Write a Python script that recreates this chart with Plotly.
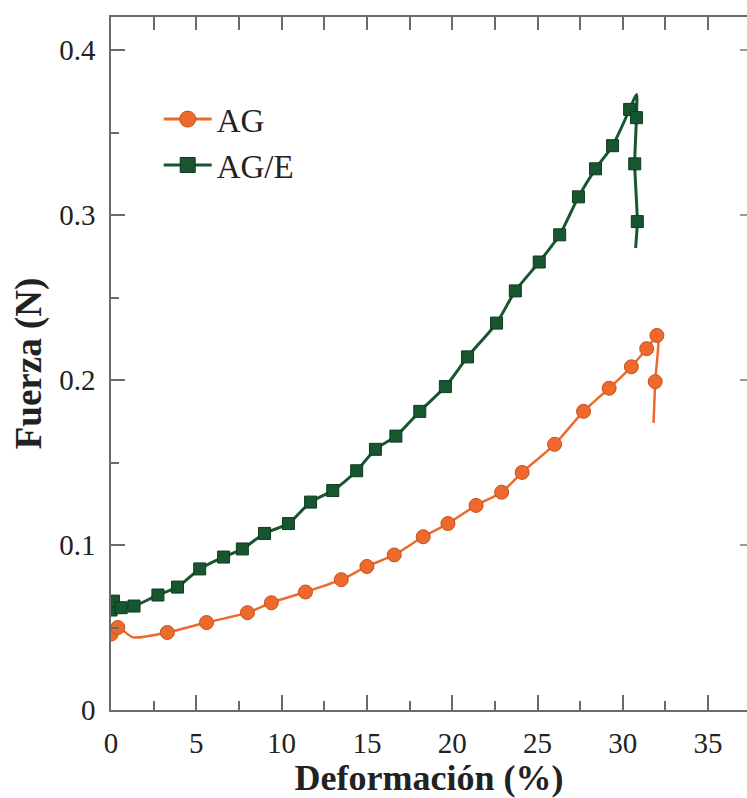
import plotly.graph_objects as go

# ---- data ----
ag_mx = [0.0, 0.4, 3.3, 5.6, 8.0, 9.4, 11.4, 13.5, 15.0, 16.6, 18.3, 19.75, 21.4, 22.9,
         24.1, 26.0, 27.7, 29.2, 30.5, 31.4, 32.0, 31.9]
ag_my = [0.046, 0.050, 0.047, 0.053, 0.059, 0.065, 0.0715, 0.079, 0.087, 0.094, 0.105, 0.113,
         0.124, 0.132, 0.144, 0.161, 0.181, 0.195, 0.208, 0.219, 0.227, 0.199]
ag_lx = [0.0, 0.4, 1.3, 3.3, 5.6, 8.0, 9.4, 11.4, 13.5, 15.0, 16.6, 18.3, 19.75, 21.4, 22.9,
         24.1, 26.0, 27.7, 29.2, 30.5, 31.4, 32.05, 31.9, 31.8]
ag_ly = [0.046, 0.050, 0.044, 0.047, 0.053, 0.059, 0.065, 0.0715, 0.079, 0.087, 0.094, 0.105,
         0.113, 0.124, 0.132, 0.144, 0.161, 0.181, 0.195, 0.208, 0.219, 0.227, 0.199, 0.174]

age_mx = [0.0, 0.15, 0.6, 1.35, 2.75, 3.9, 5.2, 6.6, 7.7, 9.0, 10.4, 11.7, 13.0, 14.4, 15.5,
          16.7, 18.1, 19.6, 20.9, 22.6, 23.7, 25.1, 26.3, 27.4, 28.4, 29.4, 30.4, 30.8,
          30.7, 30.85]
age_my = [0.0606, 0.066, 0.062, 0.063, 0.0697, 0.0745, 0.0855, 0.0927, 0.0976, 0.107, 0.113,
          0.126, 0.133, 0.145, 0.158, 0.166, 0.181, 0.196, 0.214, 0.2345, 0.254, 0.2715,
          0.288, 0.311, 0.328, 0.342, 0.364, 0.359, 0.331, 0.296]
age_lx = [0.0, 0.15, 0.6, 1.35, 2.75, 3.9, 5.2, 6.6, 7.7, 9.0, 10.4, 11.7, 13.0, 14.4, 15.5,
          16.7, 18.1, 19.6, 20.9, 22.6, 23.7, 25.1, 26.3, 27.4, 28.4, 29.4, 30.4, 30.8,
          30.8, 30.7, 30.85, 30.75]
age_ly = [0.0606, 0.066, 0.062, 0.063, 0.0697, 0.0745, 0.0855, 0.0927, 0.0976, 0.107, 0.113,
          0.126, 0.133, 0.145, 0.158, 0.166, 0.181, 0.196, 0.214, 0.2345, 0.254, 0.2715,
          0.288, 0.311, 0.328, 0.342, 0.364, 0.373, 0.359, 0.331, 0.296, 0.280]

x_ticks = [0, 5, 10, 15, 20, 25, 30, 35]
y_ticks = [0, 0.1, 0.2, 0.3, 0.4]
y_tick_text = ["0", "0.1", "0.2", "0.3", "0.4"]

orange = "#EE6A2C"
orange_edge = "#C4501E"
green = "#17562F"
green_edge = "#0E3B1F"
axis_col = "#6a6a6a"
FONT = "Liberation Serif"

fig = go.Figure()
# lines
fig.add_trace(go.Scatter(x=ag_lx, y=ag_ly, mode="lines",
                         line=dict(color=orange, width=2.5, shape="spline", smoothing=0.7),
                         showlegend=False, hoverinfo="skip"))
fig.add_trace(go.Scatter(x=age_lx, y=age_ly, mode="lines",
                         line=dict(color=green, width=3, shape="spline", smoothing=0.7),
                         showlegend=False, hoverinfo="skip"))
# markers
fig.add_trace(go.Scatter(x=ag_mx, y=ag_my, mode="markers",
                         marker=dict(symbol="circle", size=14, color=orange,
                                     line=dict(color=orange_edge, width=1)),
                         showlegend=False))
fig.add_trace(go.Scatter(x=age_mx, y=age_my, mode="markers",
                         marker=dict(symbol="square", size=12, color=green,
                                     line=dict(color=green_edge, width=1)),
                         showlegend=False))
# legend entries
fig.add_trace(go.Scatter(x=[None], y=[None], mode="lines+markers", name="AG",
                         line=dict(color=orange, width=3),
                         marker=dict(symbol="circle", size=16, color=orange,
                                     line=dict(color=orange_edge, width=1))))
fig.add_trace(go.Scatter(x=[None], y=[None], mode="lines+markers", name="AG/E",
                         line=dict(color=green, width=3),
                         marker=dict(symbol="square", size=15, color=green,
                                     line=dict(color=green_edge, width=1))))
# dummy for secondary axes (top / right ticks)
fig.add_trace(go.Scatter(x=[None], y=[None], xaxis="x2", yaxis="y2",
                         showlegend=False, hoverinfo="skip"))

XR = [0, 37.28]
YR = [0, 0.42]

fig.update_layout(
    width=747, height=798,
    margin=dict(l=111, r=0, t=17, b=88),
    paper_bgcolor="white", plot_bgcolor="white",
    font=dict(family=FONT, color="#222222"),
    xaxis=dict(range=XR, tickvals=x_ticks, ticks="inside", ticklen=15, tickwidth=1.5,
               tickcolor=axis_col, showline=True, linecolor=axis_col, linewidth=1.5,
               showgrid=False, zeroline=False,
               minor=dict(dtick=2.5, tick0=0, ticks="inside", ticklen=9, tickwidth=1.5,
                          tickcolor=axis_col, showgrid=False),
               tickfont=dict(family=FONT, size=29, color="#222222"),
               ticklabelstandoff=6,
               title=dict(text="<b>Deformación (%)</b>", standoff=2,
                          font=dict(family=FONT, size=36, color="#222222"))),
    yaxis=dict(range=YR, tickvals=y_ticks, ticktext=y_tick_text, ticks="inside", ticklen=14,
               tickwidth=1.5, tickcolor=axis_col, showline=True, linecolor=axis_col,
               linewidth=1.5, showgrid=False, zeroline=False,
               minor=dict(dtick=0.05, tick0=0, ticks="inside", ticklen=8, tickwidth=1.5,
                          tickcolor=axis_col, showgrid=False),
               tickfont=dict(family=FONT, size=29, color="#222222"),
               ticklabelstandoff=8,
               title=dict(text="<b>Fuerza (N)</b>", standoff=6,
                          font=dict(family=FONT, size=37, color="#222222"))),
    xaxis2=dict(range=XR, overlaying="x", side="top", anchor="y", dtick=2.5, tick0=0,
                ticks="inside", ticklen=13, tickwidth=1.5, tickcolor=axis_col,
                showline=True, linecolor=axis_col, linewidth=1.5, showticklabels=False,
                showgrid=False, zeroline=False),
    yaxis2=dict(range=YR, overlaying="y", side="right", anchor="x", dtick=0.1, tick0=0,
                ticks="inside", ticklen=7, tickwidth=1.5, tickcolor="#999999",
                showline=False, showticklabels=False, showgrid=False, zeroline=False),
    legend=dict(x=0.075, y=0.893, xanchor="left", yanchor="top",
                bgcolor="rgba(0,0,0,0)", tracegroupgap=0,
                font=dict(family=FONT, size=33, color="#222222"),
                itemwidth=48),
    showlegend=True,
)

fig.write_html("out.html")
